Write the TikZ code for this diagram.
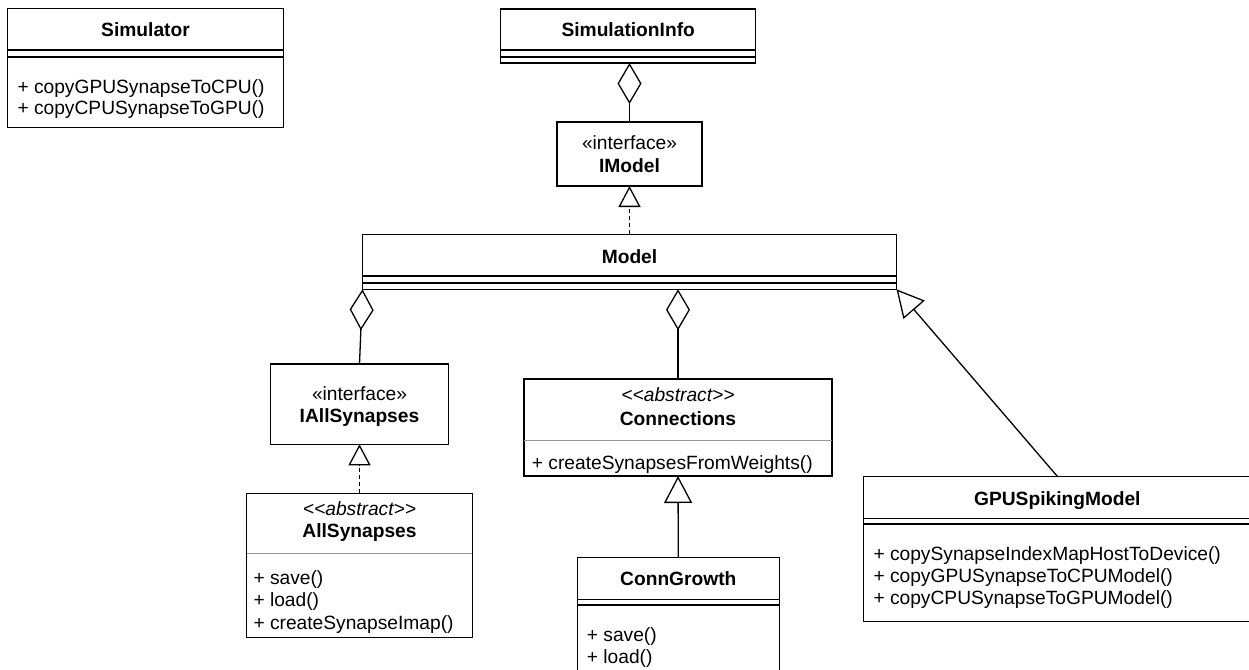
\documentclass[tikz,border=0pt]{standalone}
\usepackage{fontspec}
\newfontfamily\umlfont{Liberation Sans}
\usetikzlibrary{arrows.meta}
\definecolor{sepgray}{RGB}{150,150,150}
\begin{document}
\begin{tikzpicture}[x=1pt, y=-1pt,
  umlbox/.style={draw, line width=1.3pt, anchor=north west, inner sep=0pt, outer sep=0pt},
  txt/.style={inner sep=0pt, font=\umlfont\fontsize{19.2}{22}\selectfont},
  cname/.style={txt, anchor=base, font=\umlfont\fontsize{19.2}{22}\selectfont\bfseries},
  stereo/.style={txt, anchor=base},
  abstr/.style={txt, anchor=base, font=\umlfont\fontsize{19.2}{22}\selectfont\itshape},
  member/.style={txt, anchor=base west},
  compline/.style={line width=1.3pt},
  heavyline/.style={line width=1.9pt},
  graysep/.style={line width=1.3pt, draw=sepgray},
  assoc/.style={line width=1.3pt},
  aggregation/.style={assoc, -{Diamond[open, length=41pt, width=24pt]}},
  realization/.style={assoc, dash pattern=on 4pt off 3pt, -{Triangle[open, length=21pt, width=22pt]}},
  generalization/.style={assoc, -{Triangle[open, length=27pt, width=28pt]}},
]
\useasboundingbox (0,0) rectangle (1249,669);
\clip (0,0) rectangle (1249,669);

% Simulator
\node[umlbox, minimum width=276pt, minimum height=119pt] (sim) at (7.5,8.7) {};
\draw[compline] (sim.west |- 0,50) -- (sim.east |- 0,50);
\draw[heavyline] (sim.west |- 0,56.7) -- (sim.east |- 0,56.7);
\node[cname] (simT) at (sim.north |- 0,37) {Simulator};
\node[member] (simM1) at (17.3,93) {+ copyGPUSynapseToCPU()};
\node[member] (simM2) at (17.3,114.3) {+ copyCPUSynapseToGPU()};

% SimulationInfo
\node[umlbox, minimum width=255pt, minimum height=54pt] (info) at (500.7,9) {};
\draw[compline] (info.west |- 0,50) -- (info.east |- 0,50);
\draw[heavyline] (info.west |- 0,56.7) -- (info.east |- 0,56.7);
\node[cname] (infoT) at (info.north |- 0,37) {SimulationInfo};

% IModel
\node[umlbox, minimum width=145pt, minimum height=64pt] (imodel) at (557,122) {};
\node[stereo] (imodelS) at (imodel.north |- 0,149) {«interface»};
\node[cname] (imodelT) at (imodel.north |- 0,172) {IModel};

% Model
\node[umlbox, minimum width=534pt, minimum height=55pt] (model) at (362.5,234.3) {};
\draw[compline] (model.west |- 0,276) -- (model.east |- 0,276);
\draw[heavyline] (model.west |- 0,282.7) -- (model.east |- 0,282.7);
\node[cname] (modelT) at (model.north |- 0,263) {Model};

% IAllSynapses
\node[umlbox, minimum width=177.6pt, minimum height=80.3pt] (iall) at (270.7,364) {};
\node[stereo] (iallS) at (iall.north |- 0,400) {«interface»};
\node[cname] (iallT) at (iall.north |- 0,422.7) {IAllSynapses};

% AllSynapses
\node[umlbox, minimum width=225.6pt, minimum height=144.4pt] (allsyn) at (246.7,493.3) {};
\node[abstr] (allsynS) at (allsyn.north |- 0,515.7) {<{}<abstract>{}>};
\node[cname] (allsynT) at (allsyn.north |- 0,537.3) {AllSynapses};
\draw[graysep] (allsyn.west |- 0,553.3) -- (allsyn.east |- 0,553.3);
\node[member] (allsynM1) at (253.3,584) {+ save()};
\node[member] (allsynM2) at (253.3,606) {+ load()};
\node[member] (allsynM3) at (253.3,629) {+ createSynapseImap()};

% Connections
\node[umlbox, minimum width=308pt, minimum height=97pt] (conn) at (524,379) {};
\node[abstr] (connS) at (conn.north |- 0,401.7) {<{}<abstract>{}>};
\node[cname] (connT) at (conn.north |- 0,425) {Connections};
\draw[graysep] (conn.west |- 0,440.7) -- (conn.east |- 0,440.7);
\node[member] (connM1) at (531.7,469) {+ createSynapsesFromWeights()};

% ConnGrowth
\node[umlbox, minimum width=202pt, minimum height=130pt] (growth) at (577.3,557.3) {};
\draw[compline] (growth.west |- 0,599.3) -- (growth.east |- 0,599.3);
\draw[heavyline] (growth.west |- 0,605) -- (growth.east |- 0,605);
\node[cname] (growthT) at (growth.north |- 0,585) {ConnGrowth};
\node[member] (growthM1) at (586.7,641.7) {+ save()};
\node[member] (growthM2) at (586.7,663.3) {+ load()};

% GPUSpikingModel
\node[umlbox, minimum width=388pt, minimum height=145.4pt] (gpu) at (863.3,476.3) {};
\draw[compline] (gpu.west |- 0,518.3) -- (gpu.east |- 0,518.3);
\draw[heavyline] (gpu.west |- 0,524) -- (gpu.east |- 0,524);
\node[cname] (gpuT) at (gpu.north |- 0,505) {GPUSpikingModel};
\node[member] (gpuM1) at (873.3,560.7) {+ copySynapseIndexMapHostToDevice()};
\node[member] (gpuM2) at (873.3,582.7) {+ copyGPUSynapseToCPUModel()};
\node[member] (gpuM3) at (873.3,604.3) {+ copyCPUSynapseToGPUModel()};

% relations
\draw[aggregation] (imodel.north) -- (imodel.north |- info.south);
\draw[realization] (model.north) -- (model.north |- imodel.south);
\draw[aggregation] (iall.north) -- (model.south west);
\draw[aggregation] (conn.north) -- (conn.north |- model.south);
\draw[generalization] (gpu.north) -- (model.south east);
\draw[realization] (allsyn.north) -- (iall.south);
\draw[generalization] (growth.north) -- (conn.south);
\end{tikzpicture}
\end{document}
